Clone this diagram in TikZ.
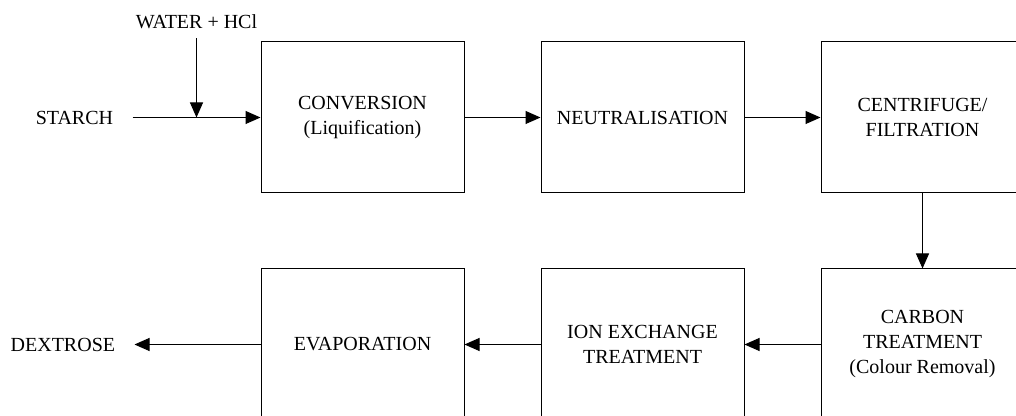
\documentclass[tikz,border=0pt]{standalone}
\usepackage{fontspec}
\setmainfont{Liberation Serif}
\usetikzlibrary{arrows.meta,positioning}

\begin{document}
\begin{tikzpicture}[x=0.5pt,y=-0.5pt,
    font=\fontsize{10}{12.5}\selectfont,
    stage/.style={draw,line width=0.5pt,minimum width=101.5pt,minimum height=75.5pt,align=center,inner sep=2pt},
    feed/.style={inner xsep=9.5pt,inner ysep=4.5pt},
    flow/.style={-{Triangle[length=7.5pt,width=6.5pt]},line width=0.5pt}]
  \useasboundingbox (0,0) rectangle (1016,416);
  \clip (0,0) rectangle (1016,416);
  \node[stage] (conv) at (362.5,117.5) {CONVERSION\\(Liquification)};
  \node[stage,right=38pt of conv] (neut) {NEUTRALISATION};
  \node[stage,right=38pt of neut] (centri) {CENTRIFUGE/\\FILTRATION};
  \node[stage,below=37.5pt of centri] (carbon) {CARBON\\TREATMENT\\(Colour Removal)};
  \node[stage,left=38pt of carbon] (ion) {ION EXCHANGE\\TREATMENT};
  \node[stage,left=38pt of ion] (evap) {EVAPORATION};
  \node[feed,left=64pt of conv] (starch) {STARCH};
  \node[feed,left=63pt of evap] (dextrose) {DEXTROSE};
  \draw[flow] (starch) -- coordinate[midway] (join) (conv);
  \node[feed,above=39.5pt of join] (water) {WATER + HCl};
  \draw[flow] (water) -- (join);
  \draw[flow] (conv) -- (neut);
  \draw[flow] (neut) -- (centri);
  \draw[flow] (centri) -- (carbon);
  \draw[flow] (carbon) -- (ion);
  \draw[flow] (ion) -- (evap);
  \draw[flow] (evap) -- (dextrose);
\end{tikzpicture}
\end{document}
